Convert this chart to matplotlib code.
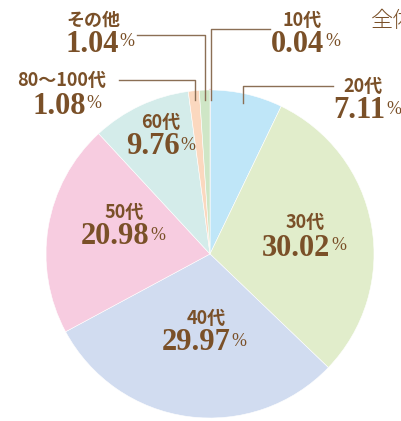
import matplotlib
matplotlib.use('Agg')
import matplotlib.pyplot as plt

# data
labels = ['10代', '20代', '30代', '40代', '50代', '60代', '80〜100代', 'その他']
values = [0.04, 7.11, 30.02, 29.97, 20.98, 9.76, 1.08, 1.04]
colors = ['#f5c6d0', '#bfe6f8', '#e1edcb', '#d1dcf0', '#f7cce0', '#d4ecea', '#fbd8bf', '#cfe6c6']

W, H = 401, 421
TXT = '#7a5028'
LINE = '#8b6f55'

fig = plt.figure(figsize=(W / 100, H / 100), dpi=100)
ax = fig.add_axes([0, 0, 1, 1])

wedges, _ = ax.pie(values, colors=colors, startangle=90, counterclock=False,
                   center=(210, H - 254), radius=164, frame=True,
                   wedgeprops=dict(edgecolor='white', linewidth=0.4))
wedges[0].set_edgecolor(colors[0])
wedges[0].set_linewidth(1.6)
ax.set_xlim(0, W)
ax.set_ylim(0, H)
ax.set_aspect('equal')
ax.axis('off')

# label positions in image pixels: (name x, name y, number x, number y)
pos = {
    '10代': (302, 20, 306, 44),
    '20代': (363, 86, 367, 111),
    '30代': (305, 222, 304, 248),
    '40代': (206, 319, 204, 343),
    '50代': (124, 212, 123, 237),
    '60代': (161, 122, 161, 147),
    '80〜100代': (62, 80, 67, 106),
    'その他': (93, 20, 100, 44),
}

fig.canvas.draw()
r = fig.canvas.get_renderer()
for lab, v in zip(labels, values):
    nx, ny, vx, vy = pos[lab]
    ax.text(nx, H - ny, lab, ha='center', va='center', color=TXT,
            fontsize=13, fontweight='bold', family=['Noto Sans CJK JP', 'DejaVu Sans'])
    num = ax.text(0, H - vy, f'{v:.2f}', ha='left', va='center', color=TXT,
                  fontsize=22, fontweight='bold', family='Liberation Serif')
    pct = ax.text(0, H - vy, '%', ha='left', va='center', color=TXT,
                  fontsize=13, family='Liberation Serif')
    wn = num.get_window_extent(r).width
    wp = pct.get_window_extent(r).width
    x0 = vx - (wn + wp + 1) / 2
    num.set_x(x0)
    pct.set_x(x0 + wn + 1)
    pct.set_y(H - vy + 2)

# title partly outside the canvas, as in the original
ax.text(371, H - 21, '全体', ha='left', va='center', color=TXT,
        fontsize=16, fontweight='light', family=['Noto Sans CJK JP', 'DejaVu Sans'])

# leader lines (image pixels)
leaders = [
    [(270, 29), (211, 29), (211, 100)],
    [(137, 35), (205, 35), (205, 100)],
    [(119, 80), (195, 80), (195, 100)],
    [(333, 86), (243, 86), (243, 103)],
]
for pts in leaders:
    ax.plot([p[0] for p in pts], [H - p[1] for p in pts], color=LINE, lw=1.0)

fig.savefig('out.png', dpi=100)
